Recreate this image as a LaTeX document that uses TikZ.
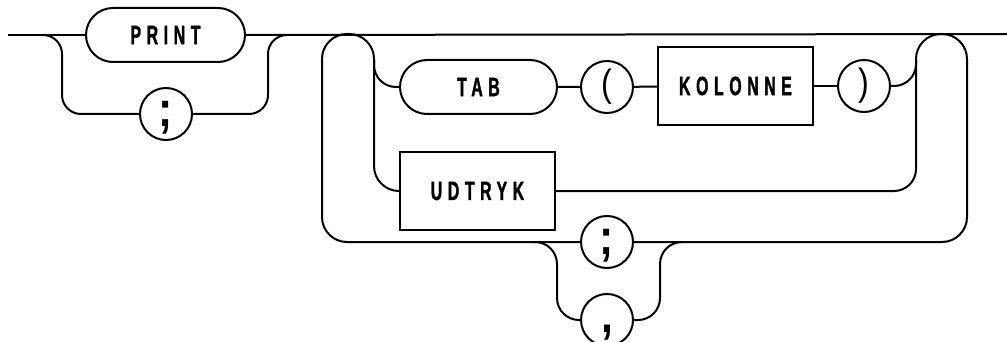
\documentclass[tikz,border=0pt]{standalone}
\usepackage{fontspec}
\setmainfont{Liberation Sans}
\newfontfamily\lblfont[FakeStretch=0.6,LetterSpace=21,FakeBold=1.2]{Liberation Sans}
\newfontfamily\pctfont[FakeStretch=0.85]{Liberation Sans}
\usetikzlibrary{shapes.misc}
\begin{document}
\begin{tikzpicture}[x=1pt,y=-1pt,line width=2pt,
  lbl/.style={font=\lblfont\bfseries\fontsize{26.5}{26.5}\selectfont},
  term/.style={draw, rounded rectangle, minimum height=54pt, inner sep=0pt, lbl},
  nonterm/.style={draw, rectangle, minimum height=78pt, inner sep=0pt, lbl},
  circ/.style={draw, circle, minimum size=52pt, inner sep=0pt},
  pct/.style={font=\pctfont\bfseries\fontsize{50}{50}\selectfont, text height=28pt, text depth=2.5pt},
  paren/.style={font=\pctfont\fontsize{38}{38}\selectfont},
  rc/.style={rounded corners=22pt},
  loopc/.style={rounded corners=25pt}]
\useasboundingbox (0,0) rectangle (1007,342);
% nodes
\node[term, minimum width=159pt] (print) at (165.5,35) {PRINT};
\node[circ, pct] (semiA) at (166,114) {;};
\node[term, minimum width=157pt] (tab) at (478.5,87) {TAB};
\node[circ, paren] (lpar) at (607,87) {(};
\node[nonterm, minimum width=155pt] (kol) at (735.5,86) {KOLONNE};
\node[circ, paren] (rpar) at (864,86) {)};
\node[nonterm, minimum width=155pt] (udt) at (477.5,191) {UDTRYK};
\node[circ, pct] (semiB) at (607,242) {;};
\node[circ, pct] (comma) at (607,320) {,};
% coordinates
\coordinate (start) at (8,35);
\coordinate (finish) at (1007,34);
\coordinate (b1) at (43,35);
\coordinate (c1) at (62,35);
\coordinate (c2) at (268,35);
\coordinate (b2) at (287,35);
\coordinate (l1bl) at (322,242);
\coordinate (l1tl) at (322,34);
\coordinate (l1tr) at (374,34);
\coordinate (l1j) at (374,60);
\coordinate (l2j) at (916,60);
\coordinate (l2tl) at (916,34);
\coordinate (l2tr) at (967,34);
\coordinate (l2br) at (967,242);
\coordinate (b3) at (533,242);
\coordinate (c3) at (557,242);
\coordinate (c4) at (660,242);
\coordinate (b4) at (682,242);
% connectors
\draw (start) -- (print.west);
\draw (print.east) -- (finish);
\draw[rounded corners=19pt] (b1) -- (c1) |- (semiA.west);
\draw[rounded corners=19pt] (semiA.east) -| (c2) -- (b2);
\draw[loopc] (semiB.west) -- (l1bl) -- (l1tl) -- (l1tr) |- (udt.west);
\draw[rc] (l1j) |- (tab.west);
\draw (tab) -- (lpar);
\draw (lpar) -- (kol);
\draw (kol) -- (rpar);
\draw[rc] (rpar.east) -| (l2j);
\draw[rc] (udt.east) -| (l2j);
\draw[loopc] (l2j) -- (l2tl) -- (l2tr) -- (l2br) -- (semiB.east);
\draw[rc] (b3) -- (c3) |- (comma.west);
\draw[rc] (comma.east) -| (c4) -- (b4);
\end{tikzpicture}
\end{document}
